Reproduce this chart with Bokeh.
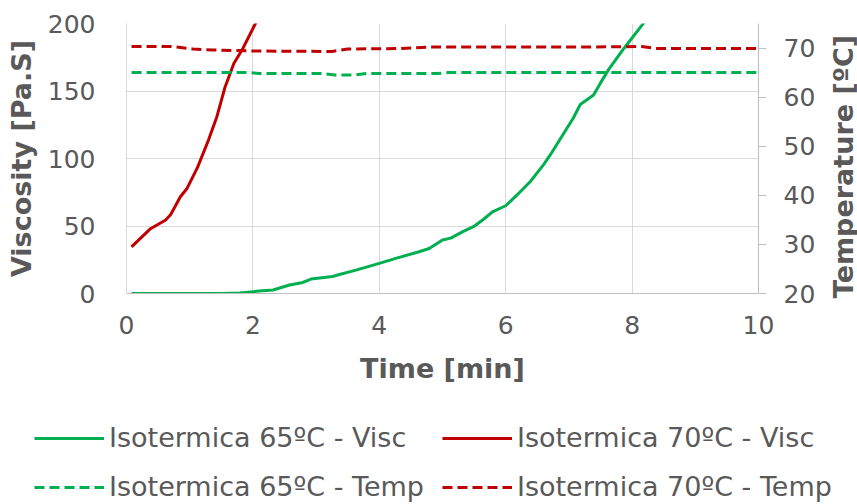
import math
from bokeh.plotting import figure
from bokeh.layouts import column, row
from bokeh.models import Range1d, LinearAxis, Legend, LegendItem, FixedTicker, Label
from bokeh.embed import file_html
from bokeh.resources import INLINE

# ---------------- data ----------------
t_visc_70 = [0.08, 0.38, 0.62, 0.70, 0.85, 0.96, 1.12, 1.30, 1.43, 1.56, 1.70, 1.83, 2.04, 2.15]
visc_70 = [34.5, 48.0, 54.5, 58.5, 71.5, 78.0, 93.0, 114.0, 131.0, 153.0, 170.5, 180.5, 200.0, 210.0]

t_visc_65 = [0.08, 0.5, 1.0, 1.5, 1.79, 2.1, 2.32, 2.58, 2.79, 2.92, 3.26, 3.37, 3.63, 4.0, 4.26,
             4.63, 4.79, 5.0, 5.13, 5.33, 5.49, 5.65, 5.79, 6.0, 6.18, 6.39, 6.6, 6.71, 6.87,
             7.07, 7.18, 7.39, 7.5, 7.63, 7.87, 8.16, 8.3]
visc_65 = [0.0, 0.0, 0.0, 0.0, 0.3, 1.8, 2.6, 6.3, 8.2, 10.7, 12.6, 14.1, 17.3, 22.3, 26.0,
           30.9, 33.3, 39.6, 41.0, 46.0, 49.5, 55.0, 60.5, 65.0, 73.0, 83.0, 95.5, 103.0, 115.0,
           130.0, 140.0, 147.0, 156.0, 166.0, 181.5, 199.0, 208.0]

t_temp_65 = [0.08, 1.0, 1.95, 2.1, 3.1, 3.3, 3.6, 3.8, 4.9, 5.1, 6.0, 7.0, 8.0, 9.0, 10.0]
temp_65 = [65.0, 65.0, 65.0, 64.8, 64.8, 64.5, 64.5, 64.8, 64.8, 65.0, 65.0, 65.0, 65.0, 65.0, 65.0]

t_temp_70 = [0.08, 0.73, 1.05, 1.36, 2.02, 3.25, 3.5, 4.34, 4.8, 6.0, 7.0, 8.15, 8.4, 9.0, 10.0]
temp_70 = [70.3, 70.3, 69.8, 69.6, 69.4, 69.3, 69.8, 69.9, 70.2, 70.2, 70.2, 70.3, 69.9, 69.9, 69.9]

x_ticks = [0, 2, 4, 6, 8, 10]
visc_ticks = [0, 50, 100, 150, 200]
temp_ticks = [20, 30, 40, 50, 60, 70]

x_title = "Time [min]"
visc_title = "Viscosity [Pa.S]"
temp_title = "Temperature [ºC]"
labels = ["Isotermica 65ºC - Visc", "Isotermica 70ºC - Visc",
          "Isotermica 65ºC - Temp", "Isotermica 70ºC - Temp"]

# ---------------- styling ----------------
GREEN = "#00B050"
RED = "#C00000"
TXT = "#595959"
FONT = "DejaVu Sans"
DASH = "10 5"

P_W = 826
ST_W = 857 - P_W

p = figure(width=P_W, height=400, output_backend="svg", toolbar_location=None,
           x_range=Range1d(0, 10), y_range=Range1d(0, 200),
           min_border_left=126, min_border_right=P_W - 758, min_border_top=23,
           min_border_bottom=107)
p.frame_align = False
p.extra_y_ranges = {"temp": Range1d(20, 75)}
p.outline_line_color = None
p.background_fill_color = "white"
p.border_fill_color = "white"

p.line(t_visc_65, visc_65, line_color=GREEN, line_width=3)
p.line(t_visc_70, visc_70, line_color=RED, line_width=3)
p.line(t_temp_65, temp_65, line_color=GREEN, line_width=3, line_dash=DASH, y_range_name="temp")
p.line(t_temp_70, temp_70, line_color=RED, line_width=3, line_dash=DASH, y_range_name="temp")

# x axis
xa = p.xaxis[0]
xa.ticker = FixedTicker(ticks=x_ticks)
xa.axis_label = x_title
xa.axis_line_color = "#bfbfbf"
xa.major_tick_line_color = None
xa.minor_tick_line_color = None
xa.major_label_standoff = 16
xa.axis_label_standoff = 16

# left axis
ya = p.yaxis[0]
ya.ticker = FixedTicker(ticks=visc_ticks)
ya.axis_label = visc_title
ya.axis_line_color = "#d9d9d9"
ya.major_tick_line_color = None
ya.minor_tick_line_color = None
ya.major_label_standoff = 25
ya.axis_label_standoff = 8

# right axis (title drawn in a separate strip so that it reads bottom-to-top)
ra = LinearAxis(y_range_name="temp", ticker=FixedTicker(ticks=temp_ticks))
ra.axis_line_color = "#bfbfbf"
ra.major_tick_line_color = "#bfbfbf"
ra.major_tick_out = 8
ra.major_tick_in = 0
ra.minor_tick_line_color = None
ra.major_label_standoff = 17
p.add_layout(ra, "right")

for ax in (xa, ya, ra):
    ax.major_label_text_font = FONT
    ax.major_label_text_font_size = "25px"
    ax.major_label_text_color = TXT
    ax.axis_label_text_font = FONT
    ax.axis_label_text_font_size = "27px"
    ax.axis_label_text_font_style = "bold"
    ax.axis_label_text_color = TXT

p.xgrid.ticker = FixedTicker(ticks=x_ticks)
p.ygrid.ticker = FixedTicker(ticks=visc_ticks)
p.xgrid.grid_line_color = "#d9d9d9"
p.ygrid.grid_line_color = "#d9d9d9"

# ---------------- right title strip ----------------
st = figure(width=ST_W, height=400, output_backend="svg", toolbar_location=None,
            x_range=Range1d(0, 1), y_range=Range1d(0, 1),
            x_axis_location=None, y_axis_location=None, min_border=0)
st.frame_align = False
st.outline_line_color = None
st.grid.visible = False
st.border_fill_color = "white"
st.background_fill_color = "white"
st.add_layout(Label(x=ST_W / 2 + 1, y=234, x_units="screen", y_units="screen", text=temp_title,
                    angle=math.pi / 2, text_align="center", text_baseline="middle",
                    text_font=FONT, text_font_size="27px", text_font_style="bold",
                    text_color=TXT))

# ---------------- legend strip below the chart ----------------
lg = figure(width=857, height=104, output_backend="svg", toolbar_location=None,
            x_range=Range1d(100, 101), y_range=Range1d(1000, 1001),
            x_axis_location=None, y_axis_location=None, min_border=0)
lg.frame_align = False
lg.outline_line_color = None
lg.grid.visible = False
lg.border_fill_color = "white"
# legend proxies (their data lie outside this strip's ranges, so only the legend shows)
k_g = lg.line(t_visc_65, visc_65, line_color=GREEN, line_width=3)
k_r = lg.line(t_visc_70, visc_70, line_color=RED, line_width=3)
k_gt = lg.line(t_temp_65, temp_65, line_color=GREEN, line_width=3, line_dash=DASH)
k_rt = lg.line(t_temp_70, temp_70, line_color=RED, line_width=3, line_dash=DASH)

legend = Legend(items=[LegendItem(label=labels[0], renderers=[k_g]),
                       LegendItem(label=labels[1], renderers=[k_r]),
                       LegendItem(label=labels[2], renderers=[k_gt]),
                       LegendItem(label=labels[3], renderers=[k_rt])],
                orientation="horizontal", ncols=2, location=(34, 2))
legend.padding = 0
legend.margin = 0
legend.spacing = 18
legend.glyph_width = 70
legend.glyph_height = 30
legend.label_height = 30
legend.label_standoff = 5
legend.border_line_color = None
legend.background_fill_alpha = 0
legend.label_text_font = FONT
legend.label_text_font_size = "27px"
legend.label_text_color = TXT
lg.add_layout(legend, "center")

layout = column(row(p, st, spacing=0), lg, spacing=0)
open("out.html", "w").write(file_html(layout, INLINE))
